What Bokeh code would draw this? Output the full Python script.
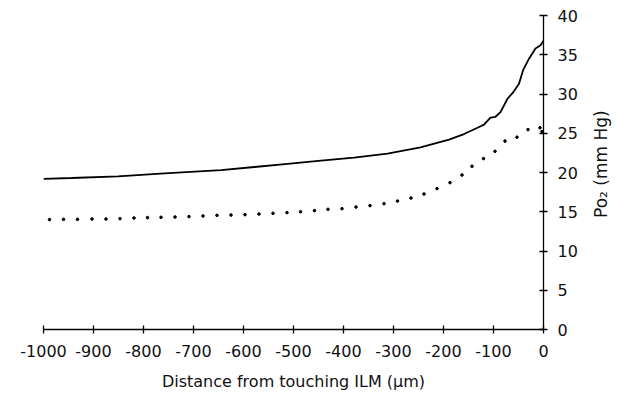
import math
from bokeh.plotting import figure
from bokeh.layouts import row
from bokeh.models import FixedTicker, Range1d
from bokeh.core.properties import value
from bokeh.embed import file_html
from bokeh.resources import INLINE

# Solid curve (upper)
solid_x = [-1000, -944, -851, -758, -645, -578, -512, -445, -379, -312, -246,
           -189, -159, -132, -119, -106, -96, -86, -72, -62, -49, -41, -29,
           -16, -6, 0]
solid_y = [19.2, 19.3, 19.5, 19.9, 20.3, 20.7, 21.1, 21.5, 21.9, 22.4, 23.2,
           24.2, 24.9, 25.7, 26.1, 27.0, 27.1, 27.7, 29.4, 30.1, 31.3, 33.0, 34.5,
           35.8, 36.2, 36.8]

# Dotted curve (lower)
dot_x = [-988, -960, -932, -903, -875, -847, -819, -792, -765, -737, -709,
         -681, -653, -625, -597, -569, -541, -513, -486, -458, -431, -403,
         -375, -347, -319, -292, -265, -239, -213, -187, -163, -143, -120,
         -97, -77, -53, -31, -7, -3]
dot_y = [14.0, 14.03, 14.03, 14.07, 14.07, 14.12, 14.2, 14.25, 14.29, 14.33,
         14.38, 14.46, 14.54, 14.58, 14.63, 14.71, 14.8, 14.89, 15.0, 15.14,
         15.31, 15.39, 15.6, 15.78, 16.03, 16.36, 16.75, 17.26, 17.95, 18.71,
         19.68, 20.79, 21.77, 22.7, 24.0, 24.5, 25.47, 25.7, 25.2]

x_ticks = [-1000, -900, -800, -700, -600, -500, -400, -300, -200, -100, 0]
x_tick_labels = ["-1000", "-900", "-800", "-700", "-600", "-500", "-400",
                 "-300", "-200", "-100", "0"]
y_ticks = [0, 5, 10, 15, 20, 25, 30, 35, 40]

x_title = "Distance from touching ILM (\u03bcm)"
y_title = "Po\u2082 (mm Hg)"

FONT = "DejaVu Sans"

p = figure(frame_width=500, frame_height=314,
           x_range=Range1d(-1000, 0), y_range=Range1d(0, 40),
           y_axis_location="right",
           output_backend="svg", toolbar_location=None,
           min_border_left=43, min_border_right=38,
           min_border_top=15, min_border_bottom=66)

p.outline_line_color = None
p.xgrid.visible = False
p.ygrid.visible = False
p.background_fill_color = "white"
p.border_fill_color = "white"

p.line(solid_x, solid_y, line_color="black", line_width=1.8)
p.scatter(dot_x, dot_y, size=2.6, color="black", marker="circle")

xa = p.xaxis[0]
xa.ticker = FixedTicker(ticks=x_ticks)
xa.major_label_overrides = {t: l for t, l in zip(x_ticks, x_tick_labels)}
xa.minor_tick_line_color = None
xa.major_tick_in = 4
xa.major_tick_out = 4
xa.axis_line_color = "black"
xa.axis_line_width = 1.3
xa.major_tick_line_color = "black"
xa.major_tick_line_width = 1.3
xa.major_label_text_font = FONT
xa.major_label_text_font_size = "16px"
xa.major_label_text_color = "#111111"
xa.major_label_standoff = 11
xa.axis_label = x_title
xa.axis_label_text_font = FONT
xa.axis_label_text_font_size = "16px"
xa.axis_label_text_font_style = "normal"
xa.axis_label_text_color = "#111111"
xa.axis_label_standoff = 12

ya = p.yaxis[0]
ya.ticker = FixedTicker(ticks=y_ticks)
ya.minor_tick_line_color = None
ya.major_tick_in = 4
ya.major_tick_out = 4
ya.axis_line_color = "black"
ya.axis_line_width = 1.3
ya.major_tick_line_color = "black"
ya.major_tick_line_width = 1.3
ya.major_label_text_font = FONT
ya.major_label_text_font_size = "16px"
ya.major_label_text_color = "#111111"
ya.major_label_standoff = 10

# Narrow companion panel carrying the right-hand axis title (reads bottom-to-top)
p_height = 15 + 314 + 66
t = figure(width=34, height=p_height, x_range=Range1d(0, 34),
           y_range=Range1d(0, p_height),
           x_axis_location=None, y_axis_location=None,
           output_backend="svg", toolbar_location=None,
           min_border=0, outline_line_color=None)
t.xgrid.visible = False
t.ygrid.visible = False
t.text(x=[19], y=[p_height - 187], text=[y_title], angle=math.pi / 2,
       text_align="center", text_baseline="middle",
       text_font=value(FONT), text_font_size="17px", text_color="#111111")

layout = row(p, t)
open("out.html", "w").write(file_html(layout, INLINE))
